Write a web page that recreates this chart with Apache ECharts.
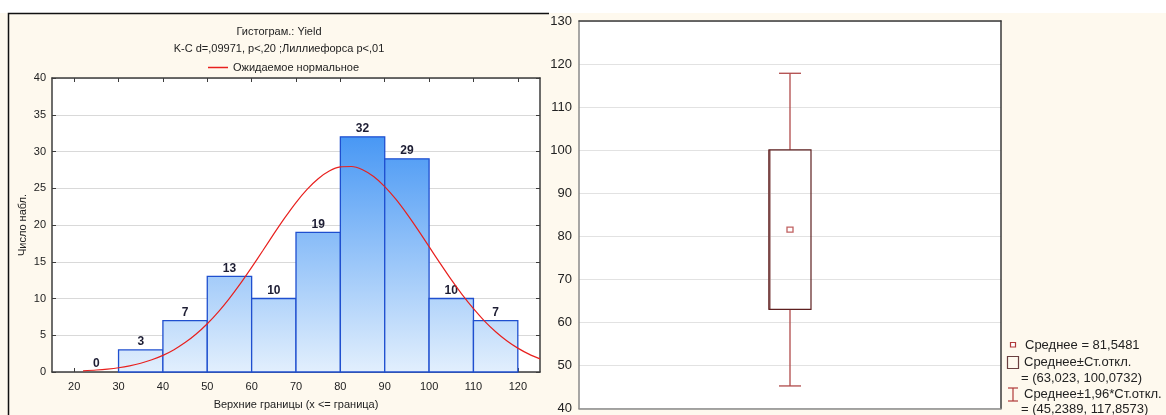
<!DOCTYPE html>
<html>
<head>
<meta charset="utf-8">
<script src="https://cdn.jsdelivr.net/npm/echarts@6/dist/echarts.min.js"></script>
<style>
  html, body { margin: 0; padding: 0; background: #ffffff; }
  #chart { width: 1166px; height: 415px; }
</style>
</head>
<body>
<div id="chart"></div>
<script>
// Histogram of Yield: bin bounds and observed counts
const binLower  = [20, 30, 40, 50, 60, 70, 80, 90, 100, 110];
const binUpper  = [30, 40, 50, 60, 70, 80, 90, 100, 110, 120];
const binCounts = [0, 3, 7, 13, 10, 19, 32, 29, 10, 7];
const xTickValues = [20, 30, 40, 50, 60, 70, 80, 90, 100, 110, 120];

// Expected normal counts per 10-unit bin
const normalX = [22, 25, 27.5, 30, 32.5, 35, 37.5, 40, 42.5, 45, 47.5, 50, 52.5, 55, 57.5, 60, 62.5, 65, 67.5,
                 70, 72.5, 75, 77.5, 80, 82.5, 85, 87.5, 90, 92.5, 95, 97.5, 100, 102.5, 105, 107.5, 110,
                 112.5, 115, 117.5, 120, 122.5, 125];
const normalY = [0.16, 0.27, 0.40, 0.58, 0.84, 1.19, 1.66, 2.26, 3.04, 4.00, 5.17, 6.57, 8.19, 10.03, 12.06,
                 14.24, 16.50, 18.79, 21.00, 23.06, 24.85, 26.30, 27.34, 27.90, 27.96, 27.52, 26.59, 25.23,
                 23.51, 21.51, 19.33, 17.05, 14.77, 12.56, 10.49, 8.61, 6.93, 5.48, 4.26, 3.25, 2.43, 1.79];

// Summary of Yield: mean, mean ± SD, mean ± 1.96*SD
const yieldMean = 81.5481;
const sdRange = [63.023, 100.0732];
const ciRange = [45.2389, 117.8573];

const FONT = '"Liberation Sans", Arial, sans-serif';
const fmt = v => String(v).replace('.', ',');
const boxRed = '#b03a3a';

const chart = echarts.init(document.getElementById('chart'), null, { renderer: 'canvas' });

const darkAxis = { lineStyle: { color: '#3c3c3c', width: 1.5 } };
const tickIn = { inside: true, length: 4, lineStyle: { color: '#3c3c3c', width: 1 } };

const option = {
  backgroundColor: '#fef9ee',
  animation: false,
  textStyle: { fontFamily: FONT },
  grid: [
    { left: 52, top: 78, width: 488, height: 296, show: true, backgroundColor: '#ffffff', borderWidth: 0 },
    { left: 579, top: 21, width: 422, height: 391, show: true, backgroundColor: '#ffffff', borderWidth: 0 }
  ],
  legend: {
    data: [{ name: 'Ожидаемое нормальное', icon: 'rect' }],
    left: 203, top: 57,
    itemWidth: 20, itemHeight: 1.5, itemGap: 5,
    textStyle: { fontSize: 11, color: '#222', fontFamily: FONT },
    selectedMode: false
  },
  xAxis: [
    {
      gridIndex: 0, type: 'value', min: 15, max: 125, position: 'bottom',
      axisLine: { onZero: false, ...darkAxis },
      axisTick: { ...tickIn, customValues: xTickValues },
      axisLabel: { customValues: xTickValues, fontSize: 11, color: '#222', margin: 9, fontFamily: FONT },
      splitLine: { show: false },
      name: 'Верхние границы (x <= граница)', nameLocation: 'middle', nameGap: 27,
      nameTextStyle: { fontSize: 11, color: '#222', fontFamily: FONT }
    },
    {
      gridIndex: 0, type: 'value', min: 15, max: 125, position: 'top',
      axisLine: { onZero: false, ...darkAxis },
      axisTick: { ...tickIn, customValues: xTickValues },
      axisLabel: { show: false },
      splitLine: { show: false }
    },
    {
      gridIndex: 1, type: 'category', data: ['Yield'], position: 'bottom',
      axisLine: { onZero: false, lineStyle: { color: '#8a8a8a', width: 1.5 } },
      axisTick: { show: false }, axisLabel: { show: false }, splitLine: { show: false }
    },
    {
      gridIndex: 1, type: 'category', data: ['Yield'], position: 'top',
      axisLine: { onZero: false, lineStyle: { color: '#3a3a3a', width: 1.5 } },
      axisTick: { show: false }, axisLabel: { show: false }, splitLine: { show: false }
    }
  ],
  yAxis: [
    {
      gridIndex: 0, type: 'value', min: 0, max: 40, interval: 5, position: 'left',
      axisLine: { show: true, onZero: false, ...darkAxis },
      axisTick: tickIn,
      axisLabel: { fontSize: 11, color: '#222', margin: 6, fontFamily: FONT },
      splitLine: { show: true, lineStyle: { color: '#d9d9d9', width: 1 } },
      name: 'Число набл.', nameLocation: 'middle', nameGap: 24, nameRotate: 90,
      nameTextStyle: { fontSize: 11, color: '#222', fontFamily: FONT }
    },
    {
      gridIndex: 0, type: 'value', min: 0, max: 40, interval: 5, position: 'right',
      axisLine: { show: true, onZero: false, ...darkAxis },
      axisTick: tickIn,
      axisLabel: { show: false },
      splitLine: { show: false }
    },
    {
      gridIndex: 1, type: 'value', min: 40, max: 130, interval: 10, position: 'left',
      axisLine: { show: true, onZero: false, lineStyle: { color: '#8a8a8a', width: 1.5 } },
      axisTick: { inside: true, length: 4, lineStyle: { color: '#555', width: 1 } },
      axisLabel: { fontSize: 13, color: '#222', margin: 7, fontFamily: FONT },
      splitLine: { show: true, lineStyle: { color: '#e2e2e2', width: 1 } }
    },
    {
      gridIndex: 1, type: 'value', min: 40, max: 130, interval: 10, position: 'right',
      axisLine: { show: true, onZero: false, lineStyle: { color: '#3a3a3a', width: 1.5 } },
      axisTick: { show: false }, axisLabel: { show: false }, splitLine: { show: false }
    }
  ],
  series: [
    {
      name: 'Гистограмма',
      type: 'custom',
      xAxisIndex: 0, yAxisIndex: 0,
      data: binLower.map((lo, i) => [lo, binUpper[i], binCounts[i]]),
      renderItem: function (params, api) {
        const lo = api.value(0), hi = api.value(1), n = api.value(2);
        const pTop = api.coord([lo, n]);
        const pBot = api.coord([hi, 0]);
        const yTopPlot = api.coord([lo, 40])[1];
        const children = [];
        if (n > 0) {
          children.push({
            type: 'rect',
            shape: { x: pTop[0], y: pTop[1], width: pBot[0] - pTop[0], height: pBot[1] - pTop[1] },
            style: {
              fill: {
                type: 'linear', x: 0, y: yTopPlot, x2: 0, y2: pBot[1], global: true,
                colorStops: [
                  { offset: 0, color: '#2282f2' },
                  { offset: 1, color: '#e2effd' }
                ]
              },
              stroke: '#1f4fcf', lineWidth: 1.3
            }
          });
        }
        children.push({
          type: 'text',
          style: {
            text: String(n), x: (pTop[0] + pBot[0]) / 2, y: pTop[1] - 2,
            textAlign: 'center', textVerticalAlign: 'bottom',
            font: 'bold 12px ' + FONT, fill: '#1d1d33'
          }
        });
        return { type: 'group', children: children };
      },
      z: 2
    },
    {
      name: 'Ожидаемое нормальное',
      type: 'line',
      xAxisIndex: 0, yAxisIndex: 0,
      data: normalX.map((x, i) => [x, normalY[i]]),
      smooth: 0.3, symbol: 'none', clip: true,
      lineStyle: { color: '#e8201e', width: 1.2 },
      itemStyle: { color: '#e8201e' },
      z: 3
    },
    {
      name: 'Размах',
      type: 'custom',
      xAxisIndex: 2, yAxisIndex: 2,
      data: [[0, ciRange[0], sdRange[0], sdRange[1], ciRange[1]]],
      renderItem: function (params, api) {
        const x = api.coord([api.value(0), 0])[0];
        const yLow = api.coord([0, api.value(1)])[1];
        const yQ1 = api.coord([0, api.value(2)])[1];
        const yQ3 = api.coord([0, api.value(3)])[1];
        const yHigh = api.coord([0, api.value(4)])[1];
        const halfBox = 21, halfCap = 11;
        const wStyle = { stroke: '#b04a4a', lineWidth: 1.3 };
        return {
          type: 'group',
          children: [
            { type: 'line', shape: { x1: x, y1: yHigh, x2: x, y2: yQ3 }, style: wStyle },
            { type: 'line', shape: { x1: x, y1: yQ1, x2: x, y2: yLow }, style: wStyle },
            { type: 'line', shape: { x1: x - halfCap, y1: yHigh, x2: x + halfCap, y2: yHigh }, style: wStyle },
            { type: 'line', shape: { x1: x - halfCap, y1: yLow, x2: x + halfCap, y2: yLow }, style: wStyle },
            { type: 'line', shape: { x1: x - halfBox + 0.5, y1: yQ3, x2: x - halfBox + 0.5, y2: yQ1 },
              style: { stroke: '#a88080', lineWidth: 2.5 } },
            { type: 'rect', shape: { x: x - halfBox, y: yQ3, width: 2 * halfBox, height: yQ1 - yQ3 },
              style: { fill: 'none', stroke: '#5e2020', lineWidth: 1.2 } }
          ]
        };
      },
      z: 2
    },
    {
      name: 'Среднее',
      type: 'scatter',
      xAxisIndex: 2, yAxisIndex: 2,
      data: [[0, yieldMean]],
      symbol: 'rect', symbolSize: [6, 5],
      itemStyle: { color: '#ffffff', borderColor: boxRed, borderWidth: 1.2 },
      z: 4
    }
  ],
  graphic: [
    // white strip above the panels
    { type: 'rect', shape: { x: 0, y: 0, width: 1166, height: 13 }, style: { fill: '#ffffff' }, silent: true },
    // left panel frame
    { type: 'polyline', shape: { points: [[549, 13.5], [8.5, 13.5], [8.5, 420]] },
      style: { stroke: '#111', lineWidth: 1.5, fill: null }, silent: true },
    // histogram titles
    { type: 'text', style: { text: 'Гистограм.: Yield', x: 279, y: 32, textAlign: 'center', textVerticalAlign: 'middle',
      font: '11px ' + FONT, fill: '#222' } },
    { type: 'text', style: { text: 'K-C d=,09971, p<,20 ;Лиллиефорса p<,01', x: 279, y: 49, textAlign: 'center',
      textVerticalAlign: 'middle', font: '11px ' + FONT, fill: '#222' } },
    // box plot key
    { type: 'rect', shape: { x: 1010.5, y: 342.5, width: 5, height: 4.5 },
      style: { fill: '#fff', stroke: boxRed, lineWidth: 1.2 } },
    { type: 'text', style: { text: 'Среднее = ' + fmt(yieldMean), x: 1025, y: 345, textVerticalAlign: 'middle',
      font: '13px ' + FONT, fill: '#222' } },
    { type: 'rect', shape: { x: 1007.5, y: 356.5, width: 11, height: 12 },
      style: { fill: 'none', stroke: '#6a4040', lineWidth: 1.2 } },
    { type: 'text', style: { text: 'Среднее±Ст.откл.', x: 1024, y: 362, textVerticalAlign: 'middle',
      font: '13px ' + FONT, fill: '#222' } },
    { type: 'text', style: { text: '= (' + fmt(sdRange[0]) + ', ' + fmt(sdRange[1]) + ')', x: 1021, y: 378,
      textVerticalAlign: 'middle', font: '13px ' + FONT, fill: '#222' } },
    { type: 'line', shape: { x1: 1013, y1: 388, x2: 1013, y2: 401 }, style: { stroke: boxRed, lineWidth: 1.2 } },
    { type: 'line', shape: { x1: 1008, y1: 388, x2: 1018, y2: 388 }, style: { stroke: boxRed, lineWidth: 1.2 } },
    { type: 'line', shape: { x1: 1008, y1: 401, x2: 1018, y2: 401 }, style: { stroke: boxRed, lineWidth: 1.2 } },
    { type: 'text', style: { text: 'Среднее±1,96*Ст.откл.', x: 1024, y: 394, textVerticalAlign: 'middle',
      font: '13px ' + FONT, fill: '#222' } },
    { type: 'text', style: { text: '= (' + fmt(ciRange[0]) + ', ' + fmt(ciRange[1]) + ')', x: 1021, y: 409,
      textVerticalAlign: 'middle', font: '13px ' + FONT, fill: '#222' } }
  ]
};

chart.setOption(option);
</script>
</body>
</html>
